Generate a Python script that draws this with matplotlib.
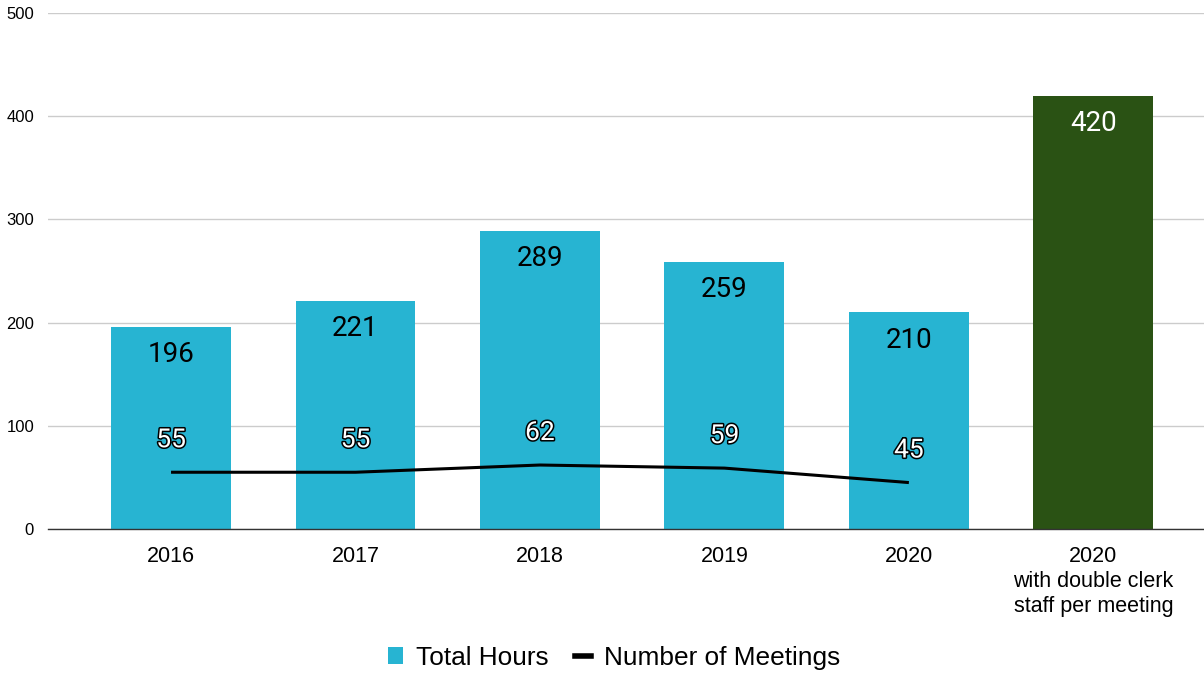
import matplotlib
matplotlib.use("Agg")
import matplotlib.pyplot as plt
import matplotlib.patheffects as pe
from matplotlib.patches import Patch
from matplotlib.lines import Line2D

categories = ["2016", "2017", "2018", "2019", "2020",
              "2020\nwith double clerk\nstaff per meeting"]
total_hours = [196, 221, 289, 259, 210, 420]
meetings = [55, 55, 62, 59, 45]

cyan = "#27B4D2"
green = "#2A5214"
bar_colors = [cyan] * 5 + [green]
label_colors = ["black"] * 5 + ["white"]

fig = plt.figure(figsize=(12.04, 6.75), dpi=100)
ax = fig.add_axes([48 / 1204, (675 - 529) / 675, (1204 - 48) / 1204, (529 - 13) / 675])

x = list(range(len(categories)))
bars = ax.bar(x, total_hours, width=0.65, color=bar_colors, zorder=2)

for xi, v, c in zip(x, total_hours, label_colors):
    ax.annotate(str(v), (xi, v), xytext=(0, -28), textcoords="offset pixels",
                ha="center", va="center", fontsize=20, color=c,
                family="Roboto", zorder=4)

ax.plot(x[:len(meetings)], meetings, color="black", lw=2.2, zorder=3,
        solid_capstyle="butt")
for xi, v in zip(x, meetings):
    ax.annotate(str(v), (xi, v), xytext=(0, 32), textcoords="offset pixels",
                ha="center", va="center", fontsize=19, color="white",
                family="Roboto", zorder=5,
                path_effects=[pe.withStroke(linewidth=2.2, foreground="black")])

ax.set_ylim(0, 500)
ax.set_xlim(-0.667, 5.6)
ax.set_yticks([0, 100, 200, 300, 400, 500])
ax.set_xticks(x)
ax.set_xticklabels(categories, fontsize=15.5, family="Liberation Sans", linespacing=1.25)
for lab in ax.get_yticklabels():
    lab.set_fontsize(12)
    lab.set_family("Liberation Sans")
ax.tick_params(axis="both", length=0)
ax.tick_params(axis="y", pad=10)
ax.tick_params(axis="x", pad=12)
ax.grid(axis="y", color="#CCCCCC", lw=1, zorder=0)
ax.set_axisbelow(True)
for s in ["top", "right", "left"]:
    ax.spines[s].set_visible(False)
ax.spines["bottom"].set_color("#333333")
ax.spines["bottom"].set_linewidth(1)
ax.spines["bottom"].set_zorder(3)

handles = [Patch(facecolor=cyan, edgecolor="none"),
           Line2D([0], [0], color="black", lw=4)]
fig.legend(handles, ["Total Hours", "Number of Meetings"], loc="center",
           bbox_to_anchor=(0.51, 1 - 658 / 675), ncol=2, frameon=False,
           prop={"family": "Liberation Sans", "size": 18.9},
           handlelength=0.6, handleheight=0.6, handletextpad=0.5, columnspacing=1.0)

fig.savefig("out.png", dpi=100)
